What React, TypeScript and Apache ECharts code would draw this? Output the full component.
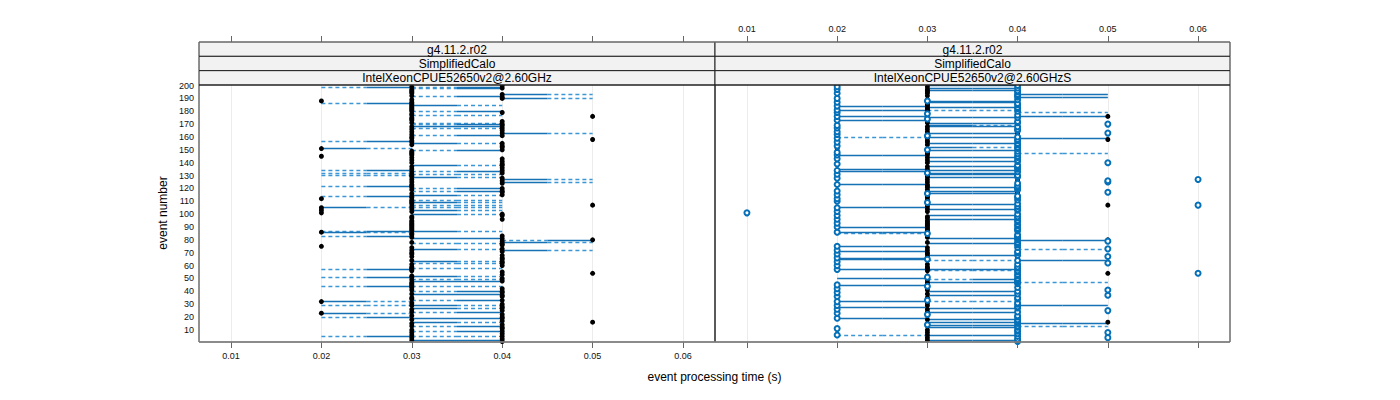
import React, { useEffect, useRef } from 'react';
import * as echarts from 'echarts';

// ---------- data ----------
const X_TICKS = [0.01, 0.02, 0.03, 0.04, 0.05, 0.06];
const Y_TICKS = [10, 20, 30, 40, 50, 60, 70, 80, 90, 100, 110, 120, 130, 140, 150, 160, 170, 180, 190, 200];
const STRIP_LEFT = ['g4.11.2.r02', 'SimplifiedCalo', 'IntelXeonCPUE52650v2@2.60GHz'];
const STRIP_RIGHT = ['g4.11.2.r02', 'SimplifiedCalo', 'IntelXeonCPUE52650v2@2.60GHzS'];
const X_TITLE = 'event processing time (s)';
const Y_TITLE = 'event number';

// event processing time in 1/100 s, events 1..200 (reference configuration, black dots)
const leftTime = [
  4, 3, 4, 3, 4, 3, 4, 3, 4, 3,
  4, 4, 3, 4, 3, 5, 4, 3, 4, 4,
  3, 4, 2, 3, 4, 3, 4, 4, 3, 4,
  3, 2, 4, 3, 3, 4, 4, 3, 4, 4,
  3, 4, 3, 3, 3, 3, 3, 4, 3, 4,
  3, 3, 4, 5, 4, 3, 3, 3, 3, 4,
  3, 4, 4, 3, 4, 4, 3, 4, 3, 3,
  4, 3, 4, 3, 2, 4, 4, 3, 4, 5,
  4, 3, 4, 3, 3, 2, 3, 3, 3, 3,
  3, 3, 3, 3, 3, 4, 3, 3, 4, 4,
  2, 3, 2, 3, 2, 3, 5, 3, 3, 3,
  3, 2, 3, 3, 4, 3, 4, 4, 3, 4,
  3, 3, 3, 4, 3, 4, 3, 4, 3, 3,
  3, 4, 3, 4, 3, 4, 3, 4, 4, 3,
  4, 3, 4, 3, 2, 3, 3, 3, 3, 4,
  2, 4, 4, 3, 4, 3, 3, 5, 3, 3,
  4, 3, 4, 3, 4, 3, 4, 3, 4, 4,
  3, 4, 3, 3, 3, 5, 3, 3, 4, 3,
  3, 3, 3, 3, 3, 3, 3, 2, 3, 4,
  4, 3, 4, 3, 3, 3, 3, 4, 3, 4,
];

// event processing time in 1/100 s, events 1..200 (second configuration, open circles)
const rightTime = [
  4, 4, 4, 5, 4, 2, 4, 5, 4, 4,
  2, 4, 4, 3, 4, 4, 4, 4, 2, 4,
  4, 3, 2, 4, 5, 2, 4, 4, 2, 4,
  4, 2, 3, 4, 4, 2, 5, 4, 2, 4,
  5, 2, 4, 3, 2, 4, 4, 4, 4, 4,
  3, 4, 4, 6, 4, 4, 2, 4, 4, 2,
  4, 5, 2, 4, 3, 2, 5, 4, 2, 4,
  4, 2, 5, 4, 2, 4, 4, 4, 5, 4,
  4, 4, 4, 4, 3, 2, 4, 4, 4, 2,
  4, 4, 2, 4, 4, 2, 4, 4, 2, 4,
  1, 2, 4, 4, 2, 4, 6, 4, 3, 2,
  4, 2, 4, 4, 2, 3, 5, 2, 4, 4,
  4, 4, 2, 4, 5, 5, 6, 2, 4, 4,
  2, 3, 4, 2, 4, 4, 4, 4, 2, 5,
  4, 4, 2, 4, 4, 2, 4, 2, 4, 3,
  4, 4, 2, 4, 4, 2, 4, 4, 2, 4,
  3, 2, 5, 2, 4, 4, 2, 4, 2, 5,
  4, 4, 2, 3, 4, 2, 4, 3, 2, 4,
  2, 4, 4, 2, 4, 4, 2, 3, 4, 2,
  4, 4, 4, 2, 4, 4, 2, 4, 2, 4,
];

// [event, from (1/100 s), to (1/100 s), style of first half + second half: S solid, D dashed]
type Seg = [number, number, number, string];
const leftSegments: Seg[] = [
  [199, 2, 3, 'DS'], [199, 3, 4, 'DS'], [198, 3, 4, 'DS'], [193, 4, 5, 'SD'], [192, 3, 4, 'DS'],
  [190, 4, 5, 'SD'], [186, 2, 3, 'DS'], [185, 3, 4, 'SD'], [180, 3, 4, 'DS'], [177, 3, 4, 'DD'],
  [171, 3, 4, 'DD'], [170, 3, 4, 'DS'], [168, 3, 4, 'SS'], [167, 3, 4, 'DD'], [163, 4, 5, 'SD'],
  [161, 3, 4, 'DS'], [157, 2, 3, 'DS'], [155, 3, 4, 'SD'], [151, 2, 3, 'SD'], [150, 3, 4, 'DS'],
  [138, 3, 4, 'SD'], [134, 2, 3, 'DS'], [133, 3, 4, 'DS'], [132, 2, 3, 'DD'], [131, 3, 4, 'DD'],
  [130, 2, 3, 'DD'], [129, 3, 4, 'SD'], [127, 4, 5, 'SD'], [125, 4, 5, 'SD'], [122, 2, 3, 'DS'],
  [120, 3, 4, 'DS'], [118, 3, 4, 'DS'], [115, 3, 4, 'SD'], [114, 2, 3, 'DS'], [111, 3, 4, 'DD'],
  [109, 3, 4, 'SD'], [107, 3, 4, 'DD'], [105, 2, 3, 'SD'], [105, 3, 4, 'DD'], [103, 3, 4, 'SD'],
  [100, 3, 4, 'SD'], [87, 2, 3, 'DS'], [87, 3, 4, 'SD'], [86, 2, 3, 'SD'], [83, 2, 3, 'DS'],
  [81, 3, 4, 'SS'], [80, 4, 5, 'DS'], [78, 4, 5, 'SD'], [77, 3, 4, 'DD'], [73, 3, 4, 'SD'],
  [72, 4, 5, 'SD'], [63, 3, 4, 'SD'], [62, 3, 4, 'DD'], [58, 3, 4, 'DD'], [57, 2, 3, 'DS'],
  [52, 3, 4, 'SD'], [51, 2, 3, 'DS'], [49, 3, 4, 'DD'], [48, 3, 4, 'SS'], [44, 2, 3, 'DS'],
  [44, 3, 4, 'DD'], [40, 3, 4, 'DS'], [38, 3, 4, 'SS'], [33, 3, 4, 'DS'], [32, 2, 3, 'SD'],
  [29, 2, 3, 'DD'], [29, 3, 4, 'SD'], [27, 3, 4, 'SD'], [24, 3, 4, 'DS'], [23, 2, 3, 'SD'],
  [20, 2, 3, 'DS'], [19, 3, 4, 'SS'], [16, 3, 4, 'SD'], [13, 3, 4, 'DS'], [9, 3, 4, 'DS'],
  [5, 2, 3, 'DS'], [5, 3, 4, 'DD'], [2, 3, 4, 'SS'],
];
const rightSegments: Seg[] = [
  [200, 3, 4, 'SS'], [198, 3, 4, 'SS'], [196, 3, 4, 'SS'], [193, 4, 5, 'SS'], [191, 4, 5, 'SS'],
  [188, 3, 4, 'SS'], [187, 3, 4, 'SS'], [184, 2, 3, 'SS'], [183, 3, 4, 'SS'], [181, 2, 3, 'SS'],
  [181, 3, 4, 'DD'], [179, 4, 5, 'DD'], [176, 4, 5, 'SS'], [176, 2, 3, 'SS'], [175, 3, 4, 'SS'],
  [173, 2, 3, 'SS'], [171, 3, 4, 'SS'], [169, 3, 4, 'SD'], [168, 3, 4, 'SS'], [163, 3, 4, 'SS'],
  [160, 2, 3, 'DD'], [160, 3, 4, 'SS'], [159, 4, 5, 'SS'], [155, 3, 4, 'SS'], [152, 3, 4, 'SD'],
  [150, 3, 4, 'SS'], [147, 4, 5, 'DD'], [146, 2, 3, 'SS'], [144, 3, 4, 'SS'], [141, 3, 4, 'SS'],
  [137, 3, 4, 'SS'], [135, 2, 3, 'SS'], [134, 3, 4, 'SS'], [133, 2, 3, 'SS'], [132, 3, 4, 'SS'],
  [131, 3, 4, 'SS'], [129, 3, 4, 'SS'], [123, 2, 3, 'SS'], [121, 3, 4, 'SS'], [118, 3, 4, 'SS'],
  [116, 3, 4, 'SS'], [108, 3, 4, 'SS'], [105, 2, 3, 'SS'], [104, 3, 4, 'SS'], [99, 3, 4, 'SS'],
  [96, 3, 4, 'SS'], [90, 2, 3, 'SS'], [86, 2, 3, 'SS'], [85, 2, 3, 'DD'], [81, 3, 4, 'SS'],
  [80, 4, 5, 'SS'], [77, 3, 4, 'SS'], [75, 2, 3, 'SS'], [73, 4, 5, 'DD'], [71, 2, 3, 'SS'],
  [68, 3, 4, 'SS'], [66, 2, 3, 'SS'], [65, 2, 3, 'SS'], [64, 4, 5, 'SS'], [64, 3, 4, 'DD'],
  [57, 2, 3, 'SS'], [57, 3, 4, 'SS'], [56, 3, 4, 'DD'], [50, 2, 3, 'SS'], [49, 3, 4, 'DS'],
  [47, 3, 4, 'SS'], [47, 4, 5, 'DD'], [45, 2, 3, 'SS'], [40, 3, 4, 'SS'], [37, 3, 4, 'SS'],
  [32, 2, 3, 'SS'], [32, 3, 4, 'DD'], [29, 4, 5, 'SS'], [28, 2, 3, 'SS'], [27, 3, 4, 'SS'],
  [24, 3, 4, 'SS'], [19, 2, 3, 'SS'], [18, 3, 4, 'SS'], [16, 3, 4, 'SS'], [15, 4, 5, 'SS'],
  [14, 3, 4, 'SS'], [13, 4, 5, 'DD'], [12, 3, 4, 'SS'], [6, 2, 3, 'DD'], [6, 3, 4, 'SS'],
  [2, 3, 4, 'SS'],
];

// ---------- layout / style ----------
const FONT = '"Liberation Sans", Arial, Helvetica, sans-serif';
const XMIN = 0.00646;
const XMAX = 0.06354;
const YMIN = 0.6;
const YMAX = 200.4;
const P_LEFT = 199;
const P_MID = 715;
const P_RIGHT = 1230;
const STRIP_TOP = 42;
const P_TOP = 85;
const P_BOTTOM = 342;
const ROW_H = (P_TOP - STRIP_TOP) / 3;
const SOLID_COLOR = '#1672b5';
const DASH_COLOR = '#3a96d4';
const CIRCLE_COLOR = '#0570b8';

function halves(segs: Seg[], want: string) {
  const out: any[] = [];
  for (const [ev, a, b, st] of segs) {
    const x1 = a / 100;
    const x2 = b / 100;
    const xm = (x1 + x2) / 2;
    if (st[0] === want) out.push({ coords: [[x1, ev], [xm, ev]] });
    if (st[1] === want) out.push({ coords: [[xm, ev], [x2, ev]] });
  }
  return out;
}

function lineSeries(segs: Seg[], want: string, axis: number, yAxis: number) {
  return {
    type: 'lines',
    coordinateSystem: 'cartesian2d',
    xAxisIndex: axis,
    yAxisIndex: yAxis,
    polyline: false,
    silent: true,
    z: 2,
    lineStyle: want === 'S'
      ? { color: SOLID_COLOR, width: 1.4, opacity: 1, type: 'solid' }
      : { color: DASH_COLOR, width: 1.3, opacity: 1, type: [4, 3] },
    data: halves(segs, want),
  };
}

function xAxisDef(grid: number, pos: 'top' | 'bottom', labels: boolean, offset: number) {
  return {
    type: 'value',
    gridIndex: grid,
    position: pos,
    offset,
    min: XMIN,
    max: XMAX,
    axisLine: { show: false },
    axisTick: {
      show: true,
      customValues: X_TICKS,
      length: 6,
      lineStyle: { color: '#666', width: 1 },
    },
    axisLabel: {
      show: labels,
      customValues: X_TICKS,
      formatter: (v: number) => v.toFixed(2),
      fontFamily: FONT,
      fontSize: 9,
      color: '#111',
      margin: 9,
    },
    splitLine: { show: pos === 'bottom', lineStyle: { color: '#ececec', width: 1 } },
  };
}

function stripGraphics(x0: number, x1: number, texts: string[]) {
  const els: any[] = [];
  texts.forEach((t, i) => {
    const y = STRIP_TOP + i * ROW_H;
    els.push({
      type: 'rect',
      z: 10,
      shape: { x: x0, y, width: x1 - x0, height: ROW_H },
      style: { fill: '#f2f2f2', stroke: '#222', lineWidth: 1 },
    });
    els.push({
      type: 'text',
      z: 11,
      x: (x0 + x1) / 2,
      y: y + ROW_H / 2 + 0.5,
      style: {
        text: t,
        fill: '#000',
        font: `12px ${FONT}`,
        align: 'center',
        verticalAlign: 'middle',
        textAlign: 'center',
        textVerticalAlign: 'middle',
      },
    });
  });
  return els;
}

export default function App() {
  const ref = useRef<HTMLDivElement>(null);
  useEffect(() => {
    if (!ref.current) return;
    const chart = echarts.init(ref.current, undefined, { renderer: 'svg' });
    const leftDots = leftTime.map((t, i) => [t / 100, i + 1]);
    const rightCircles = rightTime.map((t, i) => [t / 100, i + 1]);
    const option: any = {
      animation: false,
      backgroundColor: '#fff',
      grid: [
        { left: P_LEFT, top: P_TOP, width: P_MID - P_LEFT, height: P_BOTTOM - P_TOP },
        { left: P_MID, top: P_TOP, width: P_RIGHT - P_MID, height: P_BOTTOM - P_TOP },
      ],
      xAxis: [
        xAxisDef(0, 'bottom', true, 0),
        xAxisDef(0, 'top', false, P_TOP - STRIP_TOP),
        xAxisDef(1, 'top', true, P_TOP - STRIP_TOP),
        xAxisDef(1, 'bottom', false, 0),
      ],
      yAxis: [
        {
          type: 'value', gridIndex: 0, min: YMIN, max: YMAX,
          axisLine: { show: false }, axisTick: { show: false }, splitLine: { show: false },
          axisLabel: { customValues: Y_TICKS, fontFamily: FONT, fontSize: 9, color: '#111', margin: 5 },
        },
        {
          type: 'value', gridIndex: 1, min: YMIN, max: YMAX,
          axisLine: { show: false }, axisTick: { show: false }, splitLine: { show: false },
          axisLabel: { show: false },
        },
      ],
      series: [
        lineSeries(leftSegments, 'D', 0, 0),
        lineSeries(leftSegments, 'S', 0, 0),
        lineSeries(rightSegments, 'D', 3, 1),
        lineSeries(rightSegments, 'S', 3, 1),
        {
          type: 'scatter', xAxisIndex: 0, yAxisIndex: 0, z: 3, silent: true,
          symbol: 'circle', symbolSize: 5, itemStyle: { color: '#000', opacity: 1 }, data: leftDots,
        },
        {
          type: 'scatter', xAxisIndex: 3, yAxisIndex: 1, z: 3, silent: true,
          symbol: 'circle', symbolSize: 5, itemStyle: { color: '#000', opacity: 1 }, data: leftDots,
        },
        {
          type: 'scatter', xAxisIndex: 3, yAxisIndex: 1, z: 4, silent: true,
          symbol: 'emptyCircle', symbolSize: 5,
          itemStyle: { color: CIRCLE_COLOR, borderColor: CIRCLE_COLOR, borderWidth: 1.5, opacity: 1 },
          data: rightCircles,
        },
      ],
      graphic: [
        ...stripGraphics(P_LEFT, P_MID, STRIP_LEFT),
        ...stripGraphics(P_MID, P_RIGHT, STRIP_RIGHT),
        {
          type: 'rect', z: 12, silent: true,
          shape: { x: P_LEFT, y: P_TOP, width: P_MID - P_LEFT, height: P_BOTTOM - P_TOP },
          style: { fill: 'transparent', stroke: '#222', lineWidth: 1 },
        },
        {
          type: 'rect', z: 12, silent: true,
          shape: { x: P_MID, y: P_TOP, width: P_RIGHT - P_MID, height: P_BOTTOM - P_TOP },
          style: { fill: 'transparent', stroke: '#222', lineWidth: 1 },
        },
        {
          type: 'line', z: 13, silent: true,
          shape: { x1: P_LEFT, y1: STRIP_TOP, x2: P_RIGHT, y2: STRIP_TOP },
          style: { stroke: '#888', lineWidth: 1 },
        },
        {
          type: 'line', z: 13, silent: true,
          shape: { x1: P_LEFT, y1: P_BOTTOM, x2: P_RIGHT, y2: P_BOTTOM },
          style: { stroke: '#8a8a8a', lineWidth: 1.5 },
        },
        {
          type: 'text', z: 13, x: (P_LEFT + P_RIGHT) / 2, y: 377,
          style: {
            text: X_TITLE, fill: '#000', font: `12px ${FONT}`,
            align: 'center', verticalAlign: 'middle', textAlign: 'center', textVerticalAlign: 'middle',
          },
        },
        {
          type: 'text', z: 13, x: 163, y: 213, rotation: Math.PI / 2,
          style: {
            text: Y_TITLE, fill: '#000', font: `12px ${FONT}`,
            align: 'center', verticalAlign: 'middle', textAlign: 'center', textVerticalAlign: 'middle',
          },
        },
      ],
    };
    chart.setOption(option);
    return () => chart.dispose();
  }, []);
  return (
    <div
      ref={ref}
      style={{ position: 'fixed', left: 0, top: 0, width: 1400, height: 400, background: '#fff' }}
    />
  );
}
